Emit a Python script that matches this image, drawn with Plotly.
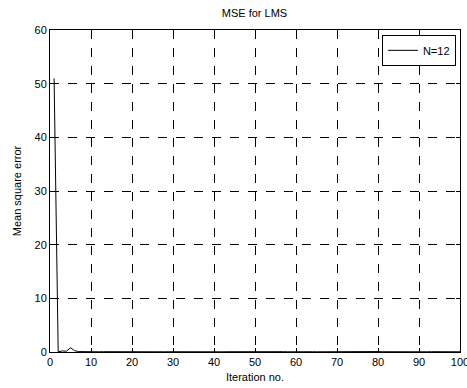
import plotly.graph_objects as go

iterations = list(range(1, 101))
mse = [51.0, 0.05, 0.2, 0.15, 0.8, 0.25, 0.08, 0.05, 0.06, 0.04,
       0.05, 0.04, 0.06, 0.05, 0.04, 0.05, 0.06, 0.04, 0.05, 0.04,
       0.05, 0.06, 0.04, 0.05, 0.04, 0.05, 0.06, 0.04, 0.05, 0.04,
       0.05, 0.04, 0.06, 0.05, 0.04, 0.05, 0.04, 0.06, 0.05, 0.04,
       0.05, 0.04, 0.05, 0.06, 0.04, 0.05, 0.04, 0.05, 0.06, 0.04,
       0.05, 0.04, 0.06, 0.05, 0.04, 0.05, 0.06, 0.04, 0.05, 0.12,
       0.15, 0.1, 0.06, 0.05, 0.04, 0.05, 0.06, 0.04, 0.05, 0.04,
       0.05, 0.06, 0.04, 0.05, 0.04, 0.05, 0.06, 0.1, 0.12, 0.08,
       0.05, 0.04, 0.05, 0.06, 0.04, 0.05, 0.04, 0.05, 0.06, 0.04,
       0.05, 0.04, 0.06, 0.05, 0.04, 0.05, 0.06, 0.04, 0.05, 0.04]
xticks = [0, 10, 20, 30, 40, 50, 60, 70, 80, 90, 100]
yticks = [0, 10, 20, 30, 40, 50, 60]

font = dict(family="Liberation Sans, Arial, sans-serif", size=11, color="black")

fig = go.Figure()
fig.add_trace(go.Scatter(x=iterations, y=mse, mode="lines", name="N=12",
                         line=dict(color="black", width=1)))

axis_common = dict(showline=True, linecolor="black", linewidth=1, mirror="ticks",
                   ticks="inside", ticklen=4, tickcolor="black",
                   showgrid=True, gridcolor="black", griddash="dash", gridwidth=1,
                   zeroline=False, automargin=False, tickfont=font,
                   ticklabeloverflow="allow")

fig.update_layout(
    width=467, height=388,
    template=None,
    paper_bgcolor="white", plot_bgcolor="white",
    margin=dict(l=50, r=7, t=30, b=36),
    font=font,
    title=dict(text="MSE for LMS", x=0.545, xanchor="center", y=0.966, yanchor="middle",
               font=dict(family="Liberation Sans, Arial, sans-serif", size=11)),
    showlegend=True,
    legend=dict(x=0.99, y=0.985, xanchor="right", yanchor="top",
                bordercolor="black", borderwidth=1, bgcolor="white",
                font=font, itemwidth=30),
)
fig.update_xaxes(range=[0, 100], tickvals=xticks, ticktext=[str(v) for v in xticks],
                 title=dict(text="Iteration no.", font=font, standoff=6), **axis_common)
fig.update_yaxes(range=[0, 60], tickvals=yticks, ticktext=[str(v) for v in yticks],
                 title=dict(text="Mean square error", font=font, standoff=10), **axis_common)

fig.write_html("out.html", config={"displayModeBar": False},
               post_script="document.body.style.margin='0';document.body.style.overflow='hidden';")
